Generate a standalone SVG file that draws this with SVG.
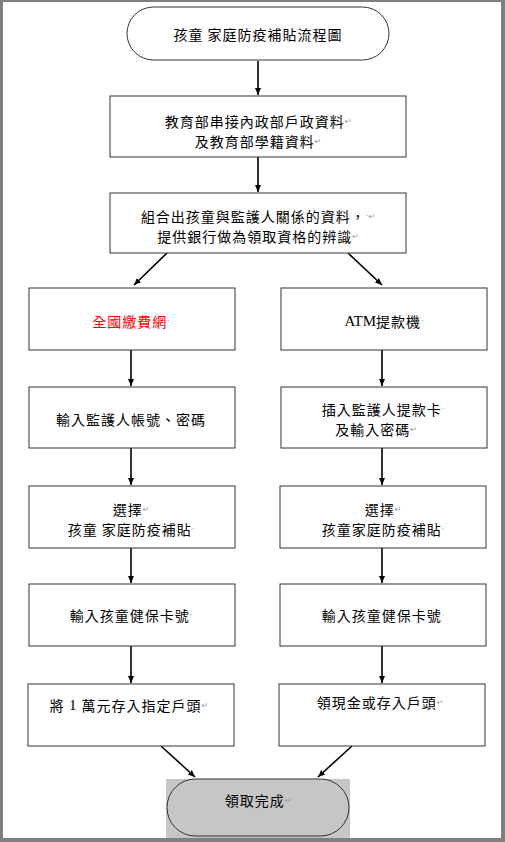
<svg xmlns="http://www.w3.org/2000/svg" width="505" height="842" viewBox="0 0 505 842">
<defs>
<marker id="ah" markerWidth="8" markerHeight="8" refX="7" refY="4" orient="auto" markerUnits="userSpaceOnUse">
<path d="M0,1 L7,4 L0,7 Z" fill="#000"/>
</marker>
</defs>
<style>
.box{fill:#fff;stroke:#333;stroke-width:1}
.t{font-family:"Noto Sans CJK TC","Noto Sans CJK SC",sans-serif;font-size:14px;letter-spacing:1px;fill:#000;text-anchor:middle;dominant-baseline:central}
.pm{font-family:"DejaVu Sans",sans-serif;font-size:8px;fill:#999;letter-spacing:0}
.c{stroke:#000;stroke-width:1.6;fill:none;marker-end:url(#ah)}
</style>
<rect x="0" y="0" width="505" height="842" fill="#fff"/>
<g id="frame" fill="#808080">
<rect x="0" y="0" width="505" height="2"/>
<rect x="0" y="0" width="3" height="842"/>
<rect x="501" y="0" width="4" height="842"/>
<rect x="0" y="838" width="505" height="4"/>
</g>
<g id="connectors">
<line class="c" x1="258" y1="61" x2="258" y2="95"/>
<line class="c" x1="258" y1="157" x2="258" y2="192"/>
<line class="c" x1="167" y1="253" x2="134" y2="285"/>
<line class="c" x1="348" y1="253" x2="382" y2="285"/>
<line class="c" x1="131" y1="350" x2="131" y2="386"/>
<line class="c" x1="382" y1="350" x2="382" y2="386"/>
<line class="c" x1="131" y1="448" x2="131" y2="485"/>
<line class="c" x1="382" y1="448" x2="382" y2="485"/>
<line class="c" x1="131" y1="548" x2="131" y2="583"/>
<line class="c" x1="382" y1="548" x2="382" y2="583"/>
<line class="c" x1="131" y1="646" x2="131" y2="683"/>
<line class="c" x1="382" y1="646" x2="382" y2="683"/>
<line class="c" x1="161" y1="746" x2="195" y2="777"/>
<line class="c" x1="352" y1="746" x2="318" y2="777"/>
</g>
<g id="start">
<rect class="box" x="127" y="7" width="262" height="53" rx="26.5"/>
<text class="t" x="258" y="34">孩童 家庭防疫補貼流程圖</text>
</g>
<g id="n1">
<rect class="box" x="110" y="96" width="296" height="61"/>
<text class="t" x="258" y="121">教育部串接內政部戶政資料<tspan class="pm">↵</tspan></text>
<text class="t" x="258" y="141">及教育部學籍資料<tspan class="pm">↵</tspan></text>
</g>
<g id="n2">
<rect class="box" x="110" y="193" width="296" height="60"/>
<text class="t" x="258" y="216">組合出孩童與監護人關係的資料，<tspan class="pm">·↵</tspan></text>
<text class="t" x="258" y="236">提供銀行做為領取資格的辨識<tspan class="pm">↵</tspan></text>
</g>
<g id="l1">
<rect class="box" x="29" y="288" width="206" height="62"/>
<text class="t" x="131" y="321" style="fill:#ff0000">全國繳費網<tspan class="pm">·</tspan></text>
</g>
<g id="r1">
<rect class="box" x="281" y="288" width="206" height="62"/>
<text class="t" x="384" y="321"><tspan style="font-family:'Liberation Serif',serif;font-size:15px;letter-spacing:0">ATM</tspan>提款機<tspan class="pm">·</tspan></text>
</g>
<g id="l2">
<rect class="box" x="29" y="387" width="206" height="61"/>
<text class="t" x="131" y="419">輸入監護人帳號、密碼</text>
</g>
<g id="r2">
<rect class="box" x="281" y="387" width="206" height="61"/>
<text class="t" x="383" y="409">插入監護人提款卡<tspan class="pm">·</tspan></text>
<text class="t" x="376" y="429">及輸入密碼<tspan class="pm">↵</tspan></text>
</g>
<g id="l3">
<rect class="box" x="29" y="486" width="206" height="62"/>
<text class="t" x="131" y="509">選擇<tspan class="pm">↵</tspan></text>
<text class="t" x="131" y="529">孩童 家庭防疫補貼<tspan class="pm">·</tspan></text>
</g>
<g id="r3">
<rect class="box" x="280" y="486" width="206" height="62"/>
<text class="t" x="383" y="509">選擇<tspan class="pm">↵</tspan></text>
<text class="t" x="383" y="529">孩童家庭防疫補貼<tspan class="pm">·</tspan></text>
</g>
<g id="l4">
<rect class="box" x="29" y="584" width="206" height="62"/>
<text class="t" x="131" y="615">輸入孩童健保卡號<tspan class="pm">·</tspan></text>
</g>
<g id="r4">
<rect class="box" x="280" y="584" width="206" height="62"/>
<text class="t" x="383" y="615">輸入孩童健保卡號<tspan class="pm">·</tspan></text>
</g>
<g id="l5">
<rect class="box" x="28" y="684" width="206" height="62"/>
<text class="t" x="129" y="705">將 <tspan style="font-family:'Liberation Serif',serif;font-size:15px">1</tspan> 萬元存入指定戶頭<tspan class="pm">↵</tspan></text>
</g>
<g id="r5">
<rect class="box" x="279" y="684" width="206" height="62"/>
<text class="t" x="380" y="702">領現金或存入戶頭<tspan class="pm">↵</tspan></text>
</g>
<g id="end">
<rect x="166" y="779" width="184" height="59" fill="#c6c6c6"/>
<rect x="167" y="779" width="182" height="57" rx="28.5" fill="#c6c6c6" stroke="#333" stroke-width="1"/>
<text class="t" x="258" y="800">領取完成<tspan class="pm">↵</tspan></text>
</g>
</svg>
